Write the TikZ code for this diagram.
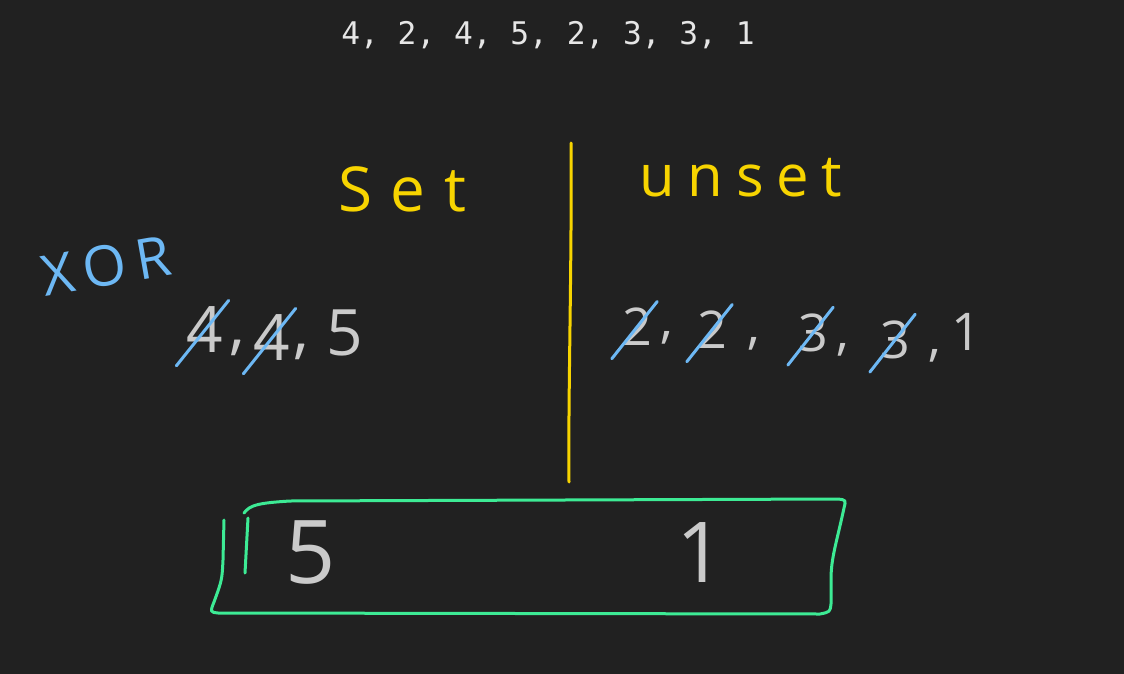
\documentclass[tikz,border=0pt]{standalone}
\usepackage{fontspec}
\setmainfont{Open Sans}
\newfontfamily\codefont{DejaVu Sans Mono}
\usetikzlibrary{positioning}
\definecolor{board}{HTML}{212121}
\definecolor{chalk}{HTML}{CACACA}
\definecolor{codegray}{HTML}{E6E6E6}
\definecolor{penyellow}{HTML}{F7D400}
\definecolor{penblue}{HTML}{6DB8F4}
\definecolor{pengreen}{HTML}{3DEB95}

\begin{document}
\begin{tikzpicture}[x=0.5pt, y=-0.5pt, line cap=round, line join=round,
  digit/.style={inner sep=0pt, text=chalk, font=\fontsize{32}{32}\selectfont},
  smalldigit/.style={digit, font=\fontsize{26}{26}\selectfont},
  heading/.style={inner sep=0pt, text=penyellow, font=\fontsize{29}{29}\selectfont\addfontfeature{LetterSpace=22}},
  strike/.style={draw=penblue, line width=1.5pt, shorten <=-8pt, shorten >=-4pt},
  pen/.style={line width=1.5pt}]
	\fill[board] (0,0) rectangle (1124,674);
	\useasboundingbox (0,0) rectangle (1124,674);
	
	\node[text=codegray, font=\codefont\fontsize{15.6}{18}\selectfont] (input) at (548,35) {4, 2, 4, 5, 2, 3, 3, 1};
	
	% split line
	\coordinate (splittop) at (571,143);
	\coordinate (splitbot) at (569,482);
	\draw[pen, penyellow] (splittop) .. controls (572,260) and (568,400) .. (splitbot);
	
	\node[heading, font=\fontsize{31}{31}\selectfont\addfontfeature{LetterSpace=30}] (set) at (402,189) {Set};
	\node[heading] (unset) at (741,178) {unset};
	\node[inner sep=0pt, text=penblue, rotate=10, font=\fontsize{28}{28}\selectfont\addfontfeature{LetterSpace=18}] (xor) at (106,266) {XOR};
	
	% set bit group
	\node[digit] (sa) at (205,330) {4};
	\node[digit] (sc1) at (237,348) {,};
	\node[digit] (sb) at (272,338) {4};
	\node[digit] (sc2) at (301,352) {,};
	\node[digit] (sd) at (345,333) {5};
	\draw[strike] (sa.south west) -- (sa.north east);
	\draw[strike] (sb.south west) -- (sb.north east);
	
	% unset bit group
	\node[smalldigit] (ua) at (637,327) {2};
	\node[smalldigit] (uc1) at (667,338) {,};
	\node[smalldigit] (ub) at (712,330) {2};
	\node[smalldigit] (uc2) at (754,344) {,};
	\node[smalldigit] (ud) at (813,333) {3};
	\node[smalldigit] (uc3) at (843,350) {,};
	\node[smalldigit] (ue) at (895,340) {3};
	\node[smalldigit] (uc4) at (935,356) {,};
	\node[smalldigit] (uf) at (966,332) {1};
	\draw[strike] (ua.south west) -- (ua.north east);
	\draw[strike] (ub.south west) -- (ub.north east);
	\draw[strike] (ud.south west) -- (ud.north east);
	\draw[strike] (ue.south west) -- (ue.north east);
	
	% result box
	\draw[pen, pengreen] (244,513) .. controls (250,505) and (258,503) .. (290,501) -- (838,499)
		.. controls (846,500) .. (844,508) .. controls (836,545) and (831,558) .. (831,580) -- (831,604)
		.. controls (830,612) .. (820,614) -- (218,613) .. controls (210,612) .. (214,602)
		.. controls (222,580) .. (223,560) -- (224,520);
	\draw[pen, pengreen] (248,518) -- (245,573);
	\node[digit, font=\fontsize{44}{44}\selectfont] (ra) at (311,553) {5};
	\node[digit, font=\fontsize{42}{42}\selectfont] (rb) at (701,553) {1};
\end{tikzpicture}
\end{document}
